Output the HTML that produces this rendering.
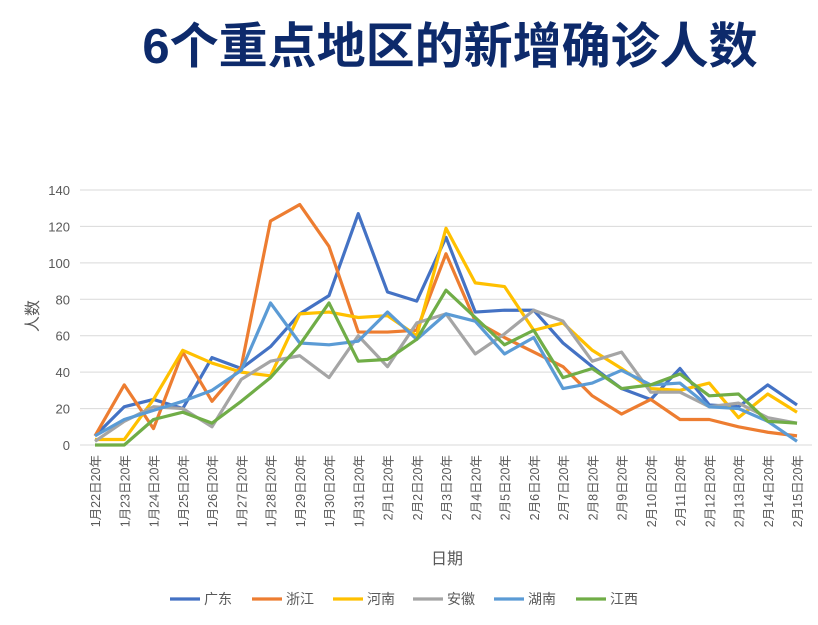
<!DOCTYPE html>
<html><head><meta charset="utf-8"><style>
body{margin:0;background:#fff;width:818px;height:620px;overflow:hidden;font-family:"Liberation Sans","Noto Sans CJK SC",sans-serif}
</style></head><body>
<svg width="818" height="620" id="c" font-family="Liberation Sans, Noto Sans CJK SC, sans-serif">
<text x="450" y="63" text-anchor="middle" font-size="49" font-weight="bold" fill="#0d2a6b">6个重点地区的新增确诊人数</text>
<text transform="translate(38,316) rotate(-90)" text-anchor="middle" font-size="16" fill="#595959">人数</text>
<text x="447" y="564" text-anchor="middle" font-size="16" fill="#595959">日期</text>
<g id="grid"></g><g id="series"></g><g id="legend"></g>
</svg>
<script>
const categories=["1月22日20年","1月23日20年","1月24日20年","1月25日20年","1月26日20年","1月27日20年","1月28日20年","1月29日20年","1月30日20年","1月31日20年","2月1日20年","2月2日20年","2月3日20年","2月4日20年","2月5日20年","2月6日20年","2月7日20年","2月8日20年","2月9日20年","2月10日20年","2月11日20年","2月12日20年","2月13日20年","2月14日20年","2月15日20年"];
const yTicks=[0,20,40,60,80,100,120,140];
const seriesNames=["广东","浙江","河南","安徽","湖南","江西"];
const colors=["#4472c4","#ed7d31","#ffc000","#a5a5a5","#5b9bd5","#70ad47"];
const guangdong=[5,21,25,20,48,42,54,72,82,127,84,79,114,73,74,74,56,43,31,25,42,22,21,33,22];
const zhejiang=[5,33,9,51,24,43,123,132,109,62,62,63,105,68,59,51,43,27,17,25,14,14,10,7,5];
const henan=[3,3,25,52,45,40,38,72,73,70,71,60,119,89,87,63,67,52,42,31,30,34,15,28,18];
const anhui=[2,13,21,20,10,36,46,49,37,60,43,67,72,50,61,74,68,46,51,29,29,21,23,15,12];
const hunan=[5,14,19,24,30,41,78,56,55,57,73,58,72,68,50,59,31,34,41,33,34,21,20,13,2];
const jiangxi=[0,0,14,18,12,24,37,55,78,46,47,58,85,70,55,63,37,42,31,33,39,27,28,13,12];
const allSeries=[guangdong,zhejiang,henan,anhui,hunan,jiangxi];
const NS="http://www.w3.org/2000/svg";
const x=i=>95+i*(702/(categories.length-1));
const y=v=>445-v*(255/140);
function mk(t,a,p){const e=document.createElementNS(NS,t);for(const k in a)e.setAttribute(k,a[k]);p.appendChild(e);return e;}
const g=document.getElementById('grid');
yTicks.forEach(t=>{
 const l=mk('line',{x1:80,x2:812,y1:y(t),y2:y(t),stroke:'#d9d9d9','stroke-width':1},g);
 
 
 const tx=mk('text',{x:70,y:y(t)+5,'text-anchor':'end','font-size':13,fill:'#595959'},g);
 tx.textContent=t;
 
 
});
categories.forEach((c,i)=>{
 const tx=mk('text',{transform:`translate(${x(i)+5},455) rotate(-90)`,'text-anchor':'end','font-size':12.5,fill:'#595959'},g);
 tx.textContent=c;
 
 
});
const sg=document.getElementById('series');
allSeries.forEach((s,k)=>{
 const p=mk('polyline',{points:s.map((v,i)=>x(i)+','+y(v)).join(' '),fill:'none',stroke:colors[k],'stroke-width':3.2,'stroke-linejoin':'round'},sg);
 
 
});
const lg=document.getElementById('legend');
const lx=[170,252,333,413,494,576];
seriesNames.forEach((n,k)=>{
 const l=mk('line',{x1:lx[k],x2:lx[k]+30,y1:599,y2:599,stroke:colors[k],'stroke-width':3.2},lg);
 
 
 const t=mk('text',{x:lx[k]+34,y:604,'font-size':14,fill:'#595959'},lg);
 t.textContent=n;
 
 
});
</script>
</body></html>
